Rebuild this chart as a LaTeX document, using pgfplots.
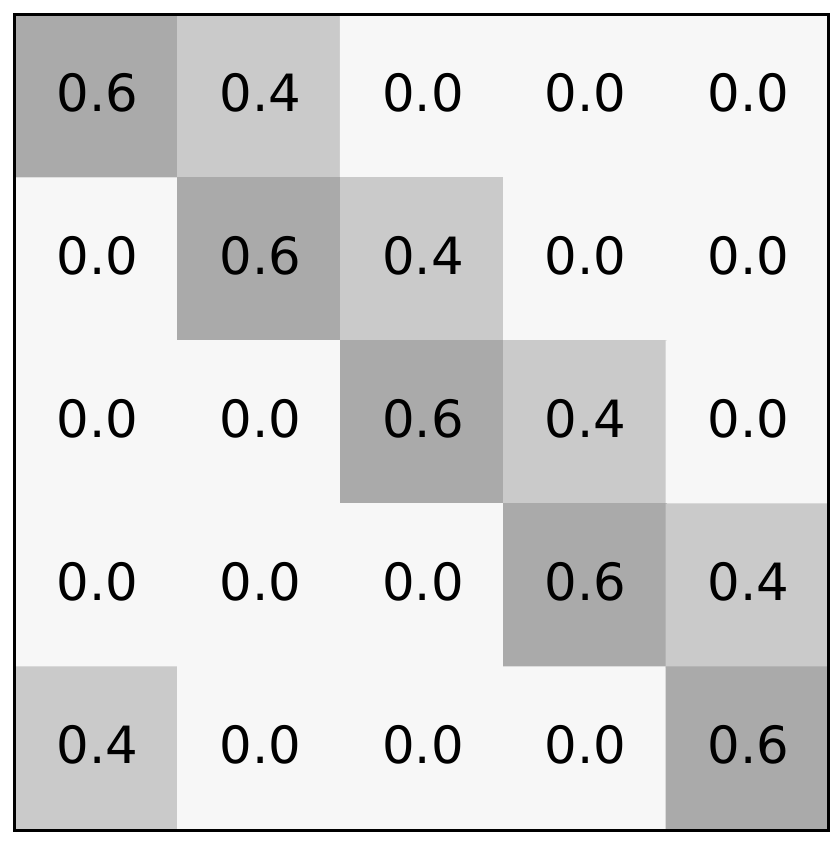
\documentclass[border=0pt]{standalone}
\usepackage{fontspec}
\setmainfont{DejaVu Sans}
\usepackage{pgfplots}
\pgfplotsset{compat=1.18}
\usepackage{pgfplotstable}
\pgfplotstableread{
x y v
0 0 0.6
1 0 0.4
2 0 0.0
3 0 0.0
4 0 0.0
0 1 0.0
1 1 0.6
2 1 0.4
3 1 0.0
4 1 0.0
0 2 0.0
1 2 0.0
2 2 0.6
3 2 0.4
4 2 0.0
0 3 0.0
1 3 0.0
2 3 0.0
3 3 0.6
4 3 0.4
0 4 0.4
1 4 0.0
2 4 0.0
3 4 0.0
4 4 0.6
}\cells
\begin{document}
\begin{tikzpicture}
\begin{axis}[
  scale only axis,
  width=244.2pt, height=244.5pt,
  xmin=-0.5, xmax=4.5, ymin=-0.5, ymax=4.5,
  y dir=reverse,
  enlargelimits=false,
  xtick=\empty, ytick=\empty,
  axis on top,
  axis line style={line width=0.9pt, black},
  colormap={grays}{rgb255(0cm)=(247,247,247) rgb255(4cm)=(202,202,202) rgb255(6cm)=(170,170,170)},
  point meta min=0, point meta max=0.6,
]
\addplot[matrix plot*, mesh/cols=5, mesh/rows=5, point meta=explicit] table[x=x, y=y, meta=v] {\cells};
\addplot[only marks, mark=none, point meta=explicit symbolic,
  nodes near coords,
  nodes near coords align={center},
  every node near coord/.append style={font=\fontsize{15.4}{18}\selectfont, text=black, anchor=center, xshift=0.3pt, yshift=1.1pt, inner sep=0pt},
] table[x=x, y=y, meta=v] {\cells};
\end{axis}
\path[use as bounding box] ([xshift=-4.5pt, yshift=-4.5pt]current axis.south west) rectangle ([xshift=0.3pt, yshift=4.5pt]current axis.north east);
\end{tikzpicture}
\end{document}
